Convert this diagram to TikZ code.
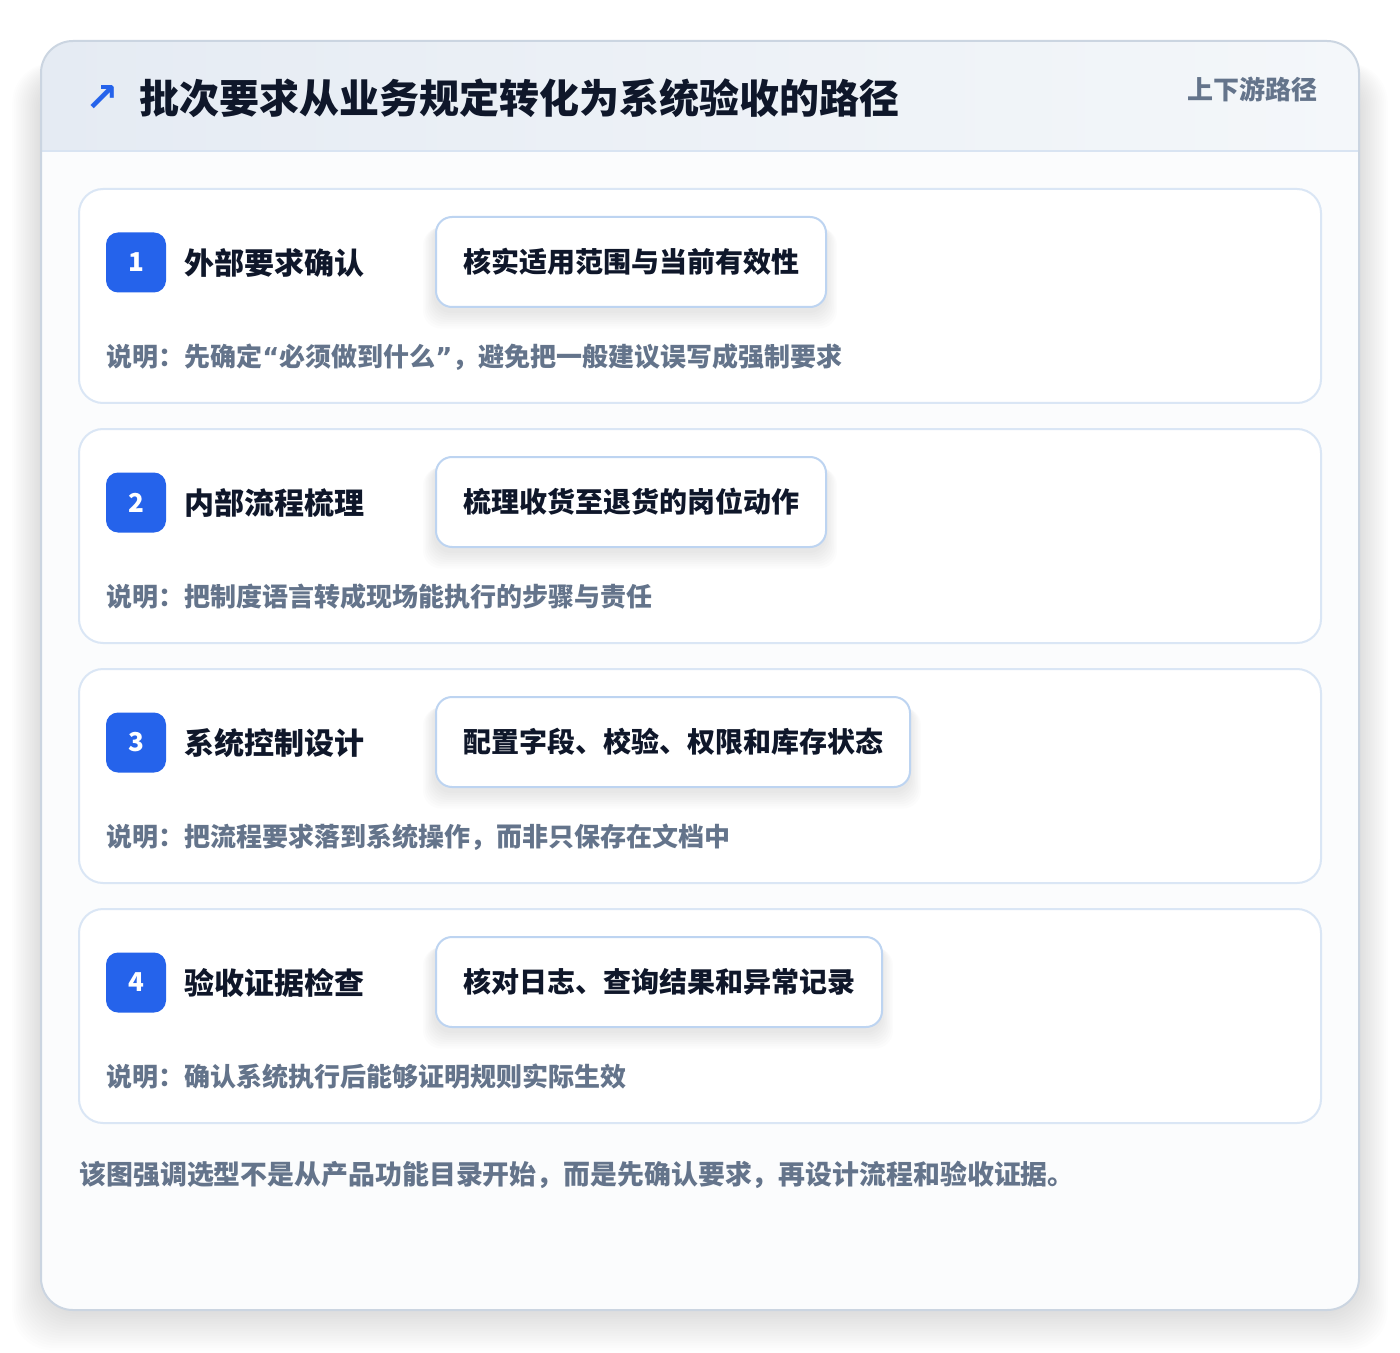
\documentclass[tikz,border=0pt]{standalone}
\usepackage{fontspec}
\setmainfont{Noto Sans CJK SC}
\newfontfamily\symfont{DejaVu Sans}
\newcommand{\myLQ}{{\symfont “}}
\newcommand{\myRQ}{{\symfont ”}}
\definecolor{titleC}{HTML}{0F172A}
\definecolor{descC}{HTML}{64748B}
\definecolor{badgeC}{HTML}{2563EB}
\definecolor{outerB}{HTML}{CBD5E1}
\definecolor{outerBg}{HTML}{FBFCFD}
\definecolor{hdrL}{HTML}{E5EBF3}
\definecolor{hdrR}{HTML}{F4F7FA}
\definecolor{hdrLine}{HTML}{D9E4F2}
\definecolor{cardB}{HTML}{DAE6F5}
\definecolor{actB}{HTML}{BDD4F1}
\tikzset{
  stepcard/.style={draw=cardB, line width=1pt, fill=white, rounded corners=12pt,
    minimum width=621pt, minimum height=107pt, inner sep=0pt},
  badge/.style={fill=badgeC, rounded corners=6pt, minimum width=30pt, minimum height=30pt,
    inner sep=0pt, text=white, font=\bfseries\fontsize{13}{13}\selectfont},
  steplabel/.style={anchor=west, inner sep=0pt, text=titleC, font=\bfseries\fontsize{15}{15}\selectfont},
  actshadow/.style={fill=black, rounded corners=9pt, opacity=0.010},
  actbox/.style={anchor=west, draw=actB, line width=1pt, fill=white, rounded corners=8pt,
    minimum height=45pt, inner sep=0pt, text=titleC,
    font=\bfseries\fontsize{14}{14}\selectfont},
  desc/.style={anchor=west, inner sep=0pt, text=descC, font=\bfseries\fontsize{13}{13}\selectfont},
}
\begin{document}
\begin{tikzpicture}[x=0.5pt,y=-0.5pt]
\useasboundingbox (0,0) rectangle (1400,1352);
\fill[white] (0,0) rectangle (1400,1352);
% outer shadow
\foreach \i in {1,...,16} {
  \fill[black, opacity=0.006, rounded corners=20pt] (41-\i*1.8,41+30-\i*0.5) rectangle (1359+\i*1.8,1310+\i*2.4+2);
}
% outer card
\path[fill=outerBg, rounded corners=16pt] (41,41) rectangle (1359,1310);
\begin{scope}
  \clip[rounded corners=16pt] (41,41) rectangle (1359,1310);
  \shade[left color=hdrL, right color=hdrR] (41,41) rectangle (1359,151);
\end{scope}
\draw[hdrLine, line width=1pt] (41,151) -- (1359,151);
\draw[outerB, line width=1pt, rounded corners=16pt] (41,41) rectangle (1359,1310);
% header
\node[anchor=center, inner sep=0pt, text=badgeC, font=\symfont\bfseries\fontsize{20}{20}\selectfont] (arrow) at (102,99) {↗};
\node[anchor=west, inner sep=0pt, text=titleC, font=\bfseries\fontsize{20}{20}\selectfont] (title) at (139,98) {批次要求从业务规定转化为系统验收的路径};
\node[anchor=east, inner sep=0pt, text=descC, font=\bfseries\fontsize{13}{13}\selectfont] (tag) at (1318,89) {上下游路径};
% steps
\foreach \n/\lab/\act/\aw/\dsc in {
  1/外部要求确认/核实适用范围与当前有效性/390/{说明：先确定\myLQ 必须做到什么\myRQ ，避免把一般建议误写成强制要求},
  2/内部流程梳理/梳理收货至退货的岗位动作/390/{说明：把制度语言转成现场能执行的步骤与责任},
  3/系统控制设计/配置字段、校验、权限和库存状态/474/{说明：把流程要求落到系统操作，而非只保存在文档中},
  4/验收证据检查/核对日志、查询结果和异常记录/446/{说明：确认系统执行后能够证明规则实际生效}} {
  \pgfmathsetmacro{\dy}{(\n-1)*240}
  \node[stepcard] (card\n) at (700,296+\dy) {};
  \node[badge] (badge\n) at (136,262.5+\dy) {\n};
  \node[steplabel] (label\n) at (184,263+\dy) {\lab};
  \foreach \k in {1,...,8} {
    \fill[actshadow] (435-\k*1.5,217+4+\k*0.8+\dy) rectangle (435+\aw+\k*1.5,307+4+\k*2.2+\dy);
  }
  \node[actbox, minimum width=\aw*0.5pt] (act\n) at (435,262+\dy) {\act};
  \node[desc] (desc\n) at (106,357+\dy) {\dsc};
}
% footer
\node[desc, font=\bfseries\fontsize{13.45}{13.45}\selectfont] (footer) at (79,1175) {该图强调选型不是从产品功能目录开始，而是先确认要求，再设计流程和验收证据。};
\end{tikzpicture}
\end{document}
